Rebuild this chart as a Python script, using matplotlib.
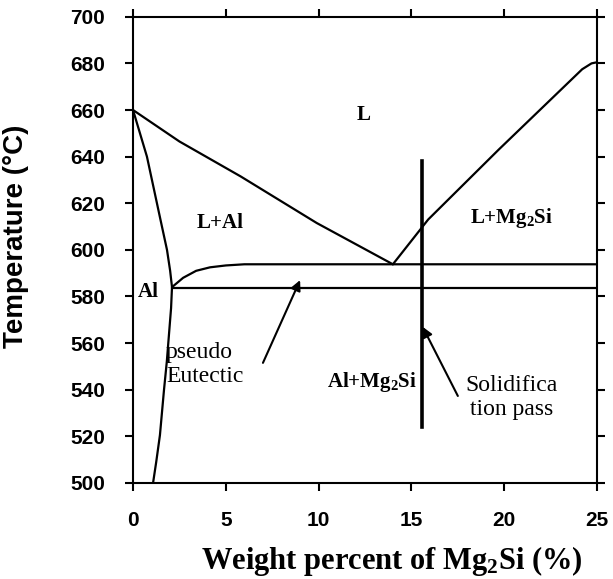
import matplotlib
matplotlib.use("Agg")
import matplotlib.pyplot as plt

plt.rcParams["mathtext.fontset"] = "custom"
plt.rcParams["mathtext.rm"] = "Liberation Serif:bold"
plt.rcParams["mathtext.bf"] = "Liberation Serif:bold"
plt.rcParams["mathtext.it"] = "Liberation Serif:bold"

# phase boundaries (wt% Mg2Si, temperature in C)
liq_left_x = [0, 2.5, 5.8, 9.9, 14.0]
liq_left_t = [660, 646.5, 631.5, 611.5, 593.8]
liq_right_x = [14.0, 15.9, 19.7, 24.2, 24.7, 25.0]
liq_right_t = [593.8, 613, 643, 677.5, 680, 680.5]
solidus_x = [0, 0.3, 0.75, 1.1, 1.45, 1.83, 2.0, 2.1]
solidus_t = [660, 652, 640, 627, 614, 600, 591, 584]
solvus_x = [2.1, 2.05, 1.95, 1.82, 1.67, 1.45, 1.25, 1.08]
solvus_t = [584, 575, 565, 552, 540, 520.5, 509, 500]
knee_x = [2.1, 2.7, 3.4, 4.15, 5.0, 6.0, 25.0]
knee_t = [584, 588, 591, 592.5, 593.3, 593.8, 593.8]
eut_x = [2.1, 25.0]
eut_t = [583.5, 583.5]

# solidification path of the alloy
path_x = [15.55, 15.55]
path_t = [524, 638]

xticks = [0, 5, 10, 15, 20, 25]
yticks = [500, 520, 540, 560, 580, 600, 620, 640, 660, 680, 700]

fig = plt.figure(figsize=(6.13, 5.79), dpi=100)
ax = fig.add_axes([0.217, 0.166, 0.757, 0.805])

lw = 1.6
for xs, ts in [(liq_left_x, liq_left_t), (liq_right_x, liq_right_t),
               (solidus_x, solidus_t), (solvus_x, solvus_t),
               (knee_x, knee_t), (eut_x, eut_t)]:
    ax.plot(xs, ts, color="black", lw=lw, solid_capstyle="round",
            solid_joinstyle="round")
ax.plot(path_x, path_t, color="black", lw=2.6)

ax.set_xlim(0, 25)
ax.set_ylim(500, 700)
ax.set_xticks(xticks)
ax.set_yticks(yticks)
for s in ax.spines.values():
    s.set_linewidth(1.5)
ax.tick_params(direction="out", length=6, width=1.5, pad=14,
               top=True, right=True, labelsize=15)
for lab in ax.get_xticklabels() + ax.get_yticklabels():
    lab.set_fontfamily("Liberation Sans")
    lab.set_fontweight("bold")

ax.set_ylabel("Temperature (\u00b0C)", fontfamily="Liberation Sans",
              fontweight="bold", fontsize=20)
ax.yaxis.set_label_coords(-0.225, 0.53)
ax.set_xlabel(r"Weight percent of Mg$_2$Si (%)", fontfamily="Liberation Serif",
              fontweight="bold", fontsize=22)
ax.xaxis.label.set_va("center")
ax.xaxis.set_label_coords(0.558, -0.168)

bold = dict(fontfamily="Liberation Serif", fontweight="bold", fontsize=15,
            ha="center", va="center")
ax.text(12.4, 658, "L", **bold)
ax.text(4.7, 611.6, "L+Al", **bold)
ax.text(20.4, 613.7, r"L+Mg$_2$Si", **bold)
ax.text(0.81, 582, "Al", **bold)
ax.text(12.9, 543.3, r"Al+Mg$_2$Si", **bold)

plain = dict(fontfamily="Liberation Serif", fontsize=17)
ax.text(1.78, 550.7, "pseudo\nEutectic", ha="left", va="center", **plain)
ax.text(20.4, 536.5, "Solidifica\ntion pass", ha="center", va="center",
        multialignment="center", **plain)

arrow = dict(arrowstyle="-|>", color="black", lw=1.5, mutation_scale=15,
             shrinkA=0, shrinkB=0)
ax.annotate("", xy=(9.0, 587), xytext=(7.0, 551.5), arrowprops=arrow)
ax.annotate("", xy=(15.6, 567), xytext=(17.5, 537.3), arrowprops=arrow)

fig.savefig("out.png", dpi=100)
